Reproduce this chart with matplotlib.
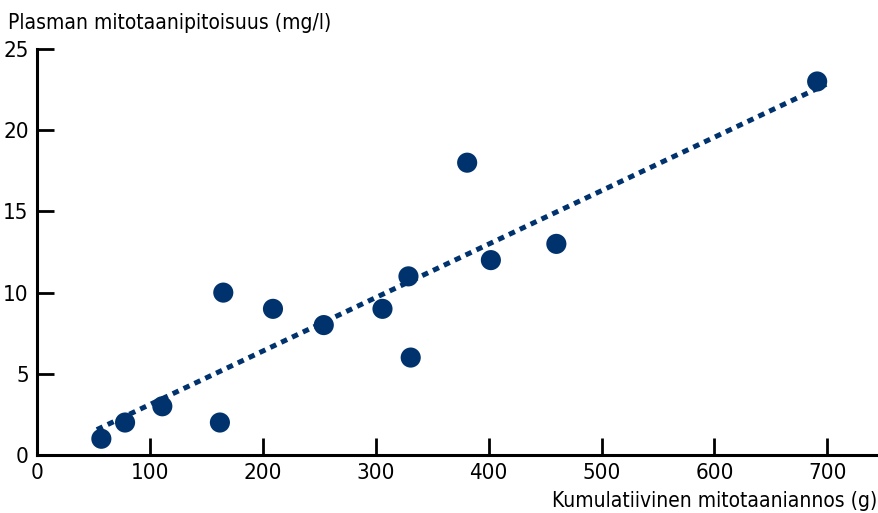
import numpy as np
import matplotlib.pyplot as plt

plt.rcParams['font.family'] = ['DejaVu Sans']
plt.rcParams['font.stretch'] = 'condensed'

# cumulative dose (g) and plasma level (mg/l)
dose = [57, 78, 111, 162, 165, 209, 254, 306, 329, 331, 381, 402, 460, 691]
level = [1, 2, 3, 2, 10, 9, 8, 9, 11, 6, 18, 12, 13, 23]
fit_range = [53, 699]

x_ticks = [0, 100, 200, 300, 400, 500, 600, 700]
y_ticks = [0, 5, 10, 15, 20, 25]

navy = '#00336e'

fig = plt.figure(figsize=(8.79, 5.13), dpi=100)
ax = fig.add_axes([37/879, 1-455/513, 840/879, 406/513])

b1, b0 = np.polyfit(dose, level, 1)
fx = np.array(fit_range)
ax.plot(fx, b0 + b1*fx, color=navy, lw=3.6, ls=(0, (1.3, 1.1)), zorder=2)
ax.scatter(dose, level, s=210, color=navy, edgecolors='none', zorder=3)

ax.set_xlim(0, 744)
ax.set_ylim(0, 25)
ax.set_xticks(x_ticks)
ax.set_yticks(y_ticks)
ax.spines['top'].set_visible(False)
ax.spines['right'].set_visible(False)
for s in ['left', 'bottom']:
    ax.spines[s].set_linewidth(2.2)
ax.tick_params(direction='in', length=12, width=2, labelsize=16, pad=6)

fig.text(8/879, 1-29/513, 'Plasman mitotaanipitoisuus (mg/l)', fontsize=15, va='baseline')
fig.text(877/879, 1-507/513, 'Kumulatiivinen mitotaaniannos (g)', fontsize=15,
         ha='right', va='baseline')

fig.savefig('out.png', dpi=100)
